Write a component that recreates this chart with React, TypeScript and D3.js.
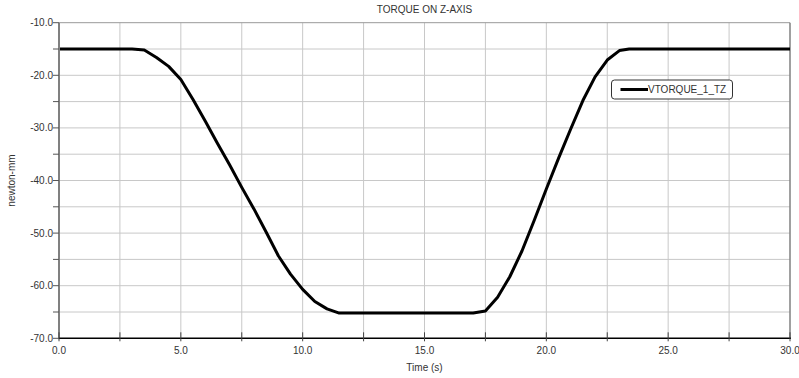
import React from "react";
import * as d3 from "d3";

const times = [0, 3.0, 3.5, 4.0, 4.5, 5.0, 5.5, 6.0, 6.5, 7.0, 7.5, 8.0, 8.5, 9.0, 9.5, 10.0, 10.5, 11.0, 11.5, 17.0, 17.5, 18.0, 18.5, 19.0, 19.5, 20.0, 20.5, 21.0, 21.5, 22.0, 22.5, 23.0, 23.4, 30];
const torque = [-15, -15, -15.2, -16.6, -18.3, -20.8, -24.6, -28.7, -32.9, -37.0, -41.3, -45.4, -49.8, -54.3, -57.8, -60.7, -63.0, -64.4, -65.2, -65.2, -64.8, -62.2, -58.3, -53.4, -47.6, -41.6, -35.8, -30.2, -24.8, -20.3, -17.1, -15.3, -15.0, -15.0];
const xTicks = [0, 5, 10, 15, 20, 25, 30];
const yTicks = [-10, -20, -30, -40, -50, -60, -70];
const xGrid = [2.5, 5, 7.5, 10, 12.5, 15, 17.5, 20, 22.5, 25, 27.5];
const yGrid = [-15, -20, -25, -30, -35, -40, -45, -50, -55, -60, -65];
const seriesName = "VTORQUE_1_TZ";
const title = "TORQUE ON Z-AXIS";
const xLabel = "Time (s)";
const yLabel = "newton-mm";

export default function App() {
  const W = 799, H = 378;
  const L = 59, R = 790, T = 22.7, B = 338.3;
  const x = d3.scaleLinear().domain([0, 30]).range([L, R]);
  const y = d3.scaleLinear().domain([-70, -10]).range([B, T]);
  const pts = times.map((t, i) => [t, torque[i]] as [number, number]);
  const line = d3.line<[number, number]>().x(d => x(d[0])).y(d => y(d[1]));
  const font = "'Liberation Sans', Arial, sans-serif";
  const tc = "#333";
  const allX = d3.range(0, 30.01, 2.5);
  const allY = d3.range(-70, -9.99, 5);
  return (
    <svg width={W} height={H} style={{ position: "absolute", left: 0, top: 0, background: "#fff" }} fontFamily={font}>
      <rect x={0} y={0} width={W} height={H} fill="#fff" />
      {xGrid.map(g => (
        <line key={"xg" + g} x1={x(g)} x2={x(g)} y1={T} y2={B} stroke="#c8c8c8" strokeWidth={1} />
      ))}
      {yGrid.map(g => (
        <line key={"yg" + g} x1={L} x2={R} y1={y(g)} y2={y(g)} stroke="#c8c8c8" strokeWidth={1} />
      ))}
      <line x1={L} x2={R} y1={T} y2={T} stroke="#999" strokeWidth={1} />
      <line x1={R} x2={R} y1={T} y2={B} stroke="#808080" strokeWidth={1.5} />
      <path d={line(pts) || ""} fill="none" stroke="#000" strokeWidth={3} strokeLinejoin="round" />
      <line x1={L} x2={L} y1={T} y2={B + 1} stroke="#808080" strokeWidth={2} />
      <line x1={L} x2={R + 1} y1={B} y2={B} stroke="#000" strokeWidth={1.5} />
      {allY.map(v => (
        <line key={"yt" + v} x1={L - 6} x2={L} y1={y(v)} y2={y(v)} stroke="#555" strokeWidth={1} />
      ))}
      {allX.map(v => (
        <line key={"xt" + v} x1={x(v)} x2={x(v)} y1={B - 6} y2={B + 3} stroke="#444" strokeWidth={1} />
      ))}
      {yTicks.map(v => (
        <text key={"yl" + v} x={L - 6} y={y(v)} dy="0.35em" textAnchor="end" fontSize={10} fill={tc}>
          {v.toFixed(1)}
        </text>
      ))}
      {xTicks.map(v => (
        <text key={"xl" + v} x={x(v)} y={B + 16} textAnchor="middle" fontSize={10} fill={tc}>
          {v.toFixed(1)}
        </text>
      ))}
      <text x={(L + R) / 2} y={13} textAnchor="middle" fontSize={10} fill={tc}>{title}</text>
      <text x={(L + R) / 2} y={371} textAnchor="middle" fontSize={10} fill={tc}>{xLabel}</text>
      <text transform={`translate(15,${(T + B) / 2}) rotate(-90)`} textAnchor="middle" fontSize={10} fill={tc}>{yLabel}</text>
      <rect x={611.5} y={80} width={121} height={19} rx={3} fill="#fff" stroke="#333" strokeWidth={1} />
      <line x1={620.5} x2={648} y1={89.5} y2={89.5} stroke="#000" strokeWidth={3} />
      <text x={648} y={89.5} dy="0.35em" fontSize={10} fill={tc}>{seriesName}</text>
    </svg>
  );
}
